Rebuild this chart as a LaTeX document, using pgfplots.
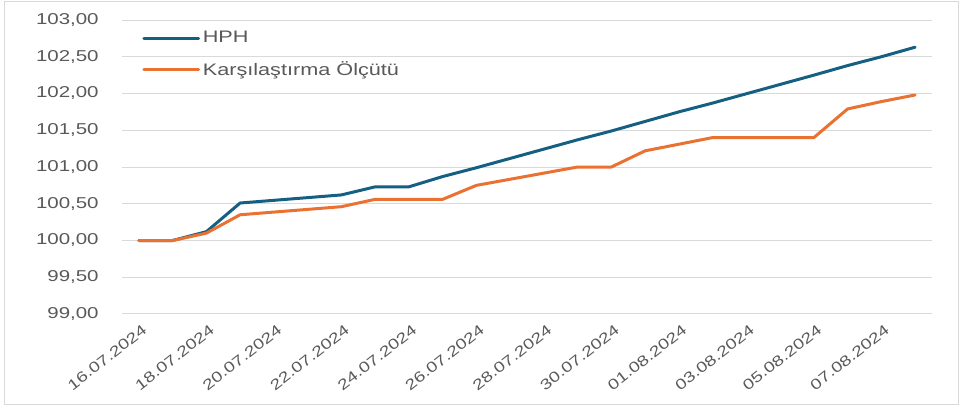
\documentclass[border=0pt]{standalone}
\usepackage{fontspec}
\setmainfont{Liberation Sans}[FakeStretch=1.3]
\usepackage{pgfplots}
\pgfplotsset{compat=1.18}
\definecolor{hph}{HTML}{156082}
\definecolor{olc}{HTML}{E97132}
\definecolor{txt}{HTML}{595959}
\definecolor{grd}{HTML}{D9D9D9}

% x = day index from 16.07.2024; weekends have no values
\pgfplotstableread{
x   hph     olc
0   100.00  100.00
1   100.00  100.00
2   100.12  100.10
3   100.51  100.35
6   100.62  100.46
7   100.73  100.56
8   100.73  100.56
9   100.87  100.56
10  100.99  100.75
13  101.37  101.00
14  101.49  101.00
15  101.62  101.22
16  101.75  101.31
17  101.87  101.40
20  102.25  101.40
21  102.38  101.79
22  102.50  101.89
23  102.63  101.98
}\data

\begin{document}
\begin{tikzpicture}
\path[use as bounding box] (-91.5pt,-69.75pt) rectangle (629.25pt,235.5pt);
\draw[grd, line width=0.75pt] (-87.75pt,-68.25pt) rectangle (627pt,234pt);
\begin{axis}[
  scale only axis, width=607.5pt, height=220.5pt,
  xmin=-0.5, xmax=23.5, ymin=99, ymax=103,
  axis line style={draw=none}, major tick length=0pt,
  ymajorgrids, grid style={grd, line width=0.75pt},
  ytick={99,99.5,...,103},
  xtick={0,2,...,22},
  xticklabels={16.07.2024,18.07.2024,20.07.2024,22.07.2024,24.07.2024,26.07.2024,28.07.2024,30.07.2024,01.08.2024,03.08.2024,05.08.2024,07.08.2024},
  x tick label style={rotate=38, anchor=north east, font=\fontsize{11}{13}\selectfont, text=txt, inner sep=1pt, yshift=-6pt, xshift=-2pt},
  y tick label style={/pgf/number format/.cd, fixed, fixed zerofill, precision=2, use comma, 1000 sep={}, assume math mode=true,
    /tikz/.cd, font=\fontsize{11.8}{13}\selectfont, text=txt, xshift=-14pt},
  legend style={at={(0.02,0.98)}, anchor=north west, draw=none, fill=none,
    font=\fontsize{12.5}{14}\selectfont, text=txt, row sep=8.5pt},
  legend cell align={left},
  legend image code/.code={\draw[#1] (0pt,0pt) -- (41pt,0pt);},
]
\addplot[hph, line width=2.25pt, line cap=round, line join=round] table[x=x, y=hph] {\data};
\addlegendentry{HPH}
\addplot[olc, line width=2.25pt, line cap=round, line join=round] table[x=x, y=olc] {\data};
\addlegendentry{Karşılaştırma Ölçütü}
\end{axis}
\end{tikzpicture}
\end{document}
